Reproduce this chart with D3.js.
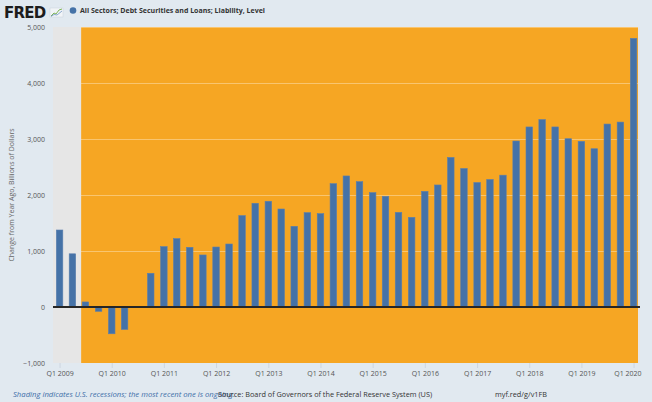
<!DOCTYPE html>
<html>
<head>
<meta charset="utf-8">
<script src="https://cdn.jsdelivr.net/npm/d3@7"></script>
<style>
  html, body { margin: 0; padding: 0; background: #e1e9f0; }
  svg { display: block; font-family: "Open Sans", "DejaVu Sans", sans-serif; }
</style>
</head>
<body>
<svg width="652" height="402"></svg>
<script>
(function(d3) {
    "use strict";

// quarterly observations, change from year ago, billions of dollars
var quarters = [
    "2009Q1", "2009Q2", "2009Q3", "2009Q4",
    "2010Q1", "2010Q2", "2010Q3", "2010Q4",
    "2011Q1", "2011Q2", "2011Q3", "2011Q4",
    "2012Q1", "2012Q2", "2012Q3", "2012Q4",
    "2013Q1", "2013Q2", "2013Q3", "2013Q4",
    "2014Q1", "2014Q2", "2014Q3", "2014Q4",
    "2015Q1", "2015Q2", "2015Q3", "2015Q4",
    "2016Q1", "2016Q2", "2016Q3", "2016Q4",
    "2017Q1", "2017Q2", "2017Q3", "2017Q4",
    "2018Q1", "2018Q2", "2018Q3", "2018Q4",
    "2019Q1", "2019Q2", "2019Q3", "2019Q4",
    "2020Q1"
];
var values = [
    1375, 950, 90, -77,
    -478, -400, 5, 602,
    1078, 1221, 1066, 929,
    1071, 1125, 1632, 1852,
    1888, 1750, 1441, 1685,
    1667, 2202, 2340, 2238,
    2042, 1976, 1690, 1601,
    2065, 2179, 2670, 2473,
    2222, 2276, 2354, 2964,
    3215, 3346, 3215, 3005,
    2957, 2826, 3267, 3302,
    4797
];
var yTicks = [-1000, 0, 1000, 2000, 3000, 4000, 5000];
var xTickYears = [2009, 2010, 2011, 2012, 2013, 2014, 2015, 2016, 2017, 2018, 2019, 2020];
var recessions = [["2007-12-01", "2009-06-01"], ["2020-02-01", "2020-04-01"]];

var seriesTitle = "All Sectors; Debt Securities and Loans; Liability, Level",
    yTitle = "Change from Year Ago, Billions of Dollars",
    note = "Shading indicates U.S. recessions; the most recent one is ongoing.",
    source = "Source: Board of Governors of the Federal Reserve System (US)",
    link = "myf.red/g/v1FB";

function parseQuarter(q) {
    return new Date(+q.slice(0, 4), (+q.slice(5) - 1) * 3, 1);
}

var data = quarters.map(function(q, i) { return {date: parseQuarter(q), value: values[i]}; }),
    parseDay = d3.timeParse("%Y-%m-%d");

var svg = d3.select("svg"),
    plot = {left: 53, right: 640, top: 27, bottom: 363},

    x = d3.scaleTime()
        .domain([d3.timeDay.offset(data[0].date, -46), d3.timeDay.offset(data[data.length - 1].date, 45)])
        .range([plot.left, plot.right]),
    y = d3.scaleLinear()
        .domain([-1000, 5000])
        .range([plot.bottom, plot.top]),

    barWidth = 6.5;

svg.append("defs").append("clipPath")
    .attr("id", "clip")
    .append("rect")
    .attr("x", plot.left)
    .attr("y", plot.top)
    .attr("width", plot.right - plot.left)
    .attr("height", plot.bottom - plot.top);

// plot background
svg.append("rect")
    .attr("x", plot.left)
    .attr("y", plot.top)
    .attr("width", plot.right - plot.left)
    .attr("height", plot.bottom - plot.top)
    .attr("fill", "#f6a623");

// gridlines
svg.append("g")
    .selectAll("line")
    .data(yTicks.filter(function(t) { return t > 0; }))
    .join("line")
    .attr("x1", plot.left)
    .attr("x2", plot.right)
    .attr("y1", function(d) { return y(d) + 0.5; })
    .attr("y2", function(d) { return y(d) + 0.5; })
    .attr("stroke", "#ffffff")
    .attr("stroke-opacity", 0.35)
    .attr("stroke-width", 1);

// recession shading
svg.append("g")
    .attr("clip-path", "url(#clip)")
    .selectAll("rect")
    .data(recessions)
    .join("rect")
    .attr("x", function(d) { return x(parseDay(d[0])); })
    .attr("y", plot.top)
    .attr("width", function(d) { return x(parseDay(d[1])) - x(parseDay(d[0])); })
    .attr("height", plot.bottom - plot.top)
    .attr("fill", "#e6e6e6");

// bars
svg.append("g")
    .selectAll("rect")
    .data(data)
    .join("rect")
    .attr("x", function(d) { return x(d.date) - barWidth / 2; })
    .attr("y", function(d) { return y(Math.max(0, d.value)); })
    .attr("width", barWidth)
    .attr("height", function(d) { return Math.abs(y(d.value) - y(0)); })
    .attr("fill", "#4572a7")
    .attr("stroke", "#5a7fae")
    .attr("stroke-width", 0.6);

// zero line
svg.append("line")
    .attr("x1", plot.left)
    .attr("x2", plot.right)
    .attr("y1", y(0))
    .attr("y2", y(0))
    .attr("stroke", "#262626")
    .attr("stroke-width", 2);

// y axis labels
var yAxis = svg.append("g")
    .attr("transform", "translate(" + (plot.left - 5) + ",0)")
    .call(d3.axisLeft(y).tickValues(yTicks).tickSize(0).tickFormat(d3.format(",")));
yAxis.select(".domain").remove();
yAxis.selectAll("text")
    .attr("fill", "#555")
    .attr("font-size", "7px")
    .attr("font-family", "Open Sans, DejaVu Sans, sans-serif");

// x axis
var xAxis = svg.append("g")
    .attr("transform", "translate(0," + plot.bottom + ")")
    .call(d3.axisBottom(x)
        .tickValues(xTickYears.map(function(yr) { return new Date(yr, 0, 1); }))
        .tickSize(5)
        .tickPadding(3)
        .tickFormat(function(d) { return "Q1 " + d.getFullYear(); }));
xAxis.select(".domain").remove();
xAxis.selectAll("line").attr("stroke", "#cdd6e0");
xAxis.selectAll("text")
    .attr("fill", "#555")
    .attr("font-size", "7px")
    .attr("font-family", "Open Sans, DejaVu Sans, sans-serif");
// keep the last label inside the chart
xAxis.selectAll(".tick").filter(function(d, i, n) { return i === n.length - 1; })
    .select("text")
    .attr("text-anchor", "end")
    .attr("x", plot.right + 1 - x(new Date(xTickYears[xTickYears.length - 1], 0, 1)));

// y axis title
svg.append("text")
    .attr("transform", "translate(14," + ((plot.top + plot.bottom) / 2) + ") rotate(-90)")
    .attr("text-anchor", "middle")
    .attr("fill", "#666")
    .attr("font-size", "7px")
    .text(yTitle);

// FRED logo
var logo = svg.append("g");
logo.append("text")
    .attr("x", 4)
    .attr("y", 17.5)
    .attr("font-family", "DejaVu Sans, sans-serif")
    .attr("font-weight", "bold")
    .attr("font-size", "15px")
    .attr("letter-spacing", "-0.8")
    .attr("fill", "#1c1c1c")
    .text("FRED");
logo.append("rect")
    .attr("x", 50).attr("y", 8).attr("width", 13).attr("height", 9)
    .attr("fill", "#f1f4f7").attr("stroke", "#c9d3dc").attr("stroke-width", 0.5);
logo.append("path")
    .attr("d", "M51,16 L54,13 L56,14 L59,10 L62,9")
    .attr("fill", "none").attr("stroke", "#7fb55a").attr("stroke-width", 1);
logo.append("path")
    .attr("d", "M51,16.5 L54,14.5 L57,15 L62,11")
    .attr("fill", "none").attr("stroke", "#6e94c1").attr("stroke-width", 0.8);

// legend
svg.append("circle")
    .attr("cx", 73)
    .attr("cy", 10.5)
    .attr("r", 3.3)
    .attr("fill", "#4572a7");
svg.append("text")
    .attr("x", 80)
    .attr("y", 13)
    .attr("font-size", "7px")
    .attr("font-weight", "bold")
    .attr("fill", "#333")
    .text(seriesTitle);

// footer
svg.append("text")
    .attr("x", 13)
    .attr("y", 397)
    .attr("font-size", "7.7px")
    .attr("font-style", "italic")
    .attr("fill", "#3d6ea8")
    .text(note);
svg.append("text")
    .attr("x", 218)
    .attr("y", 397)
    .attr("font-size", "7.3px")
    .attr("fill", "#333")
    .text(source);
svg.append("text")
    .attr("x", 495)
    .attr("y", 397)
    .attr("font-size", "7.3px")
    .attr("fill", "#333")
    .text(link);

}(d3));
</script>
</body>
</html>
